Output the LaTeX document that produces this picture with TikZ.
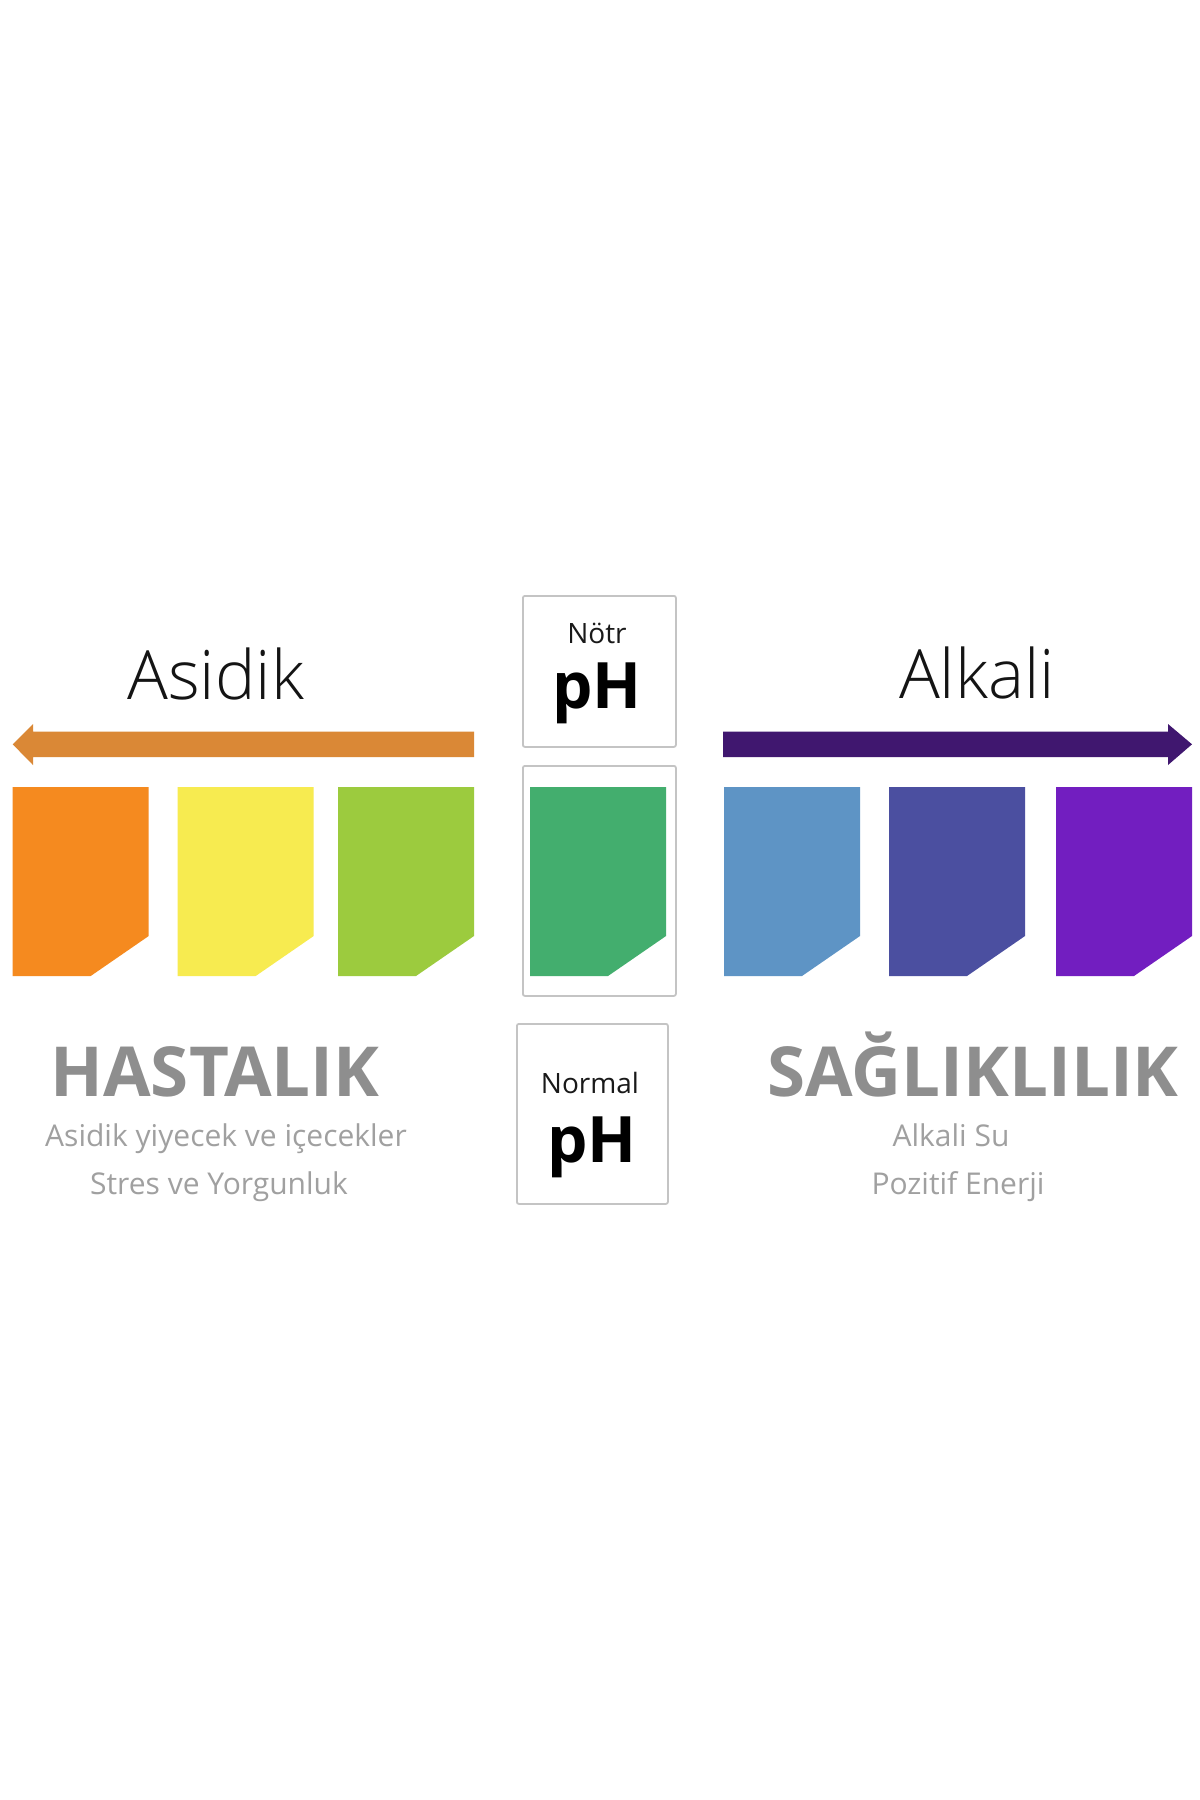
\documentclass[tikz,border=0pt]{standalone}
\usepackage{fontspec}
\setmainfont{Open Sans}
\IfFontExistsTF{Open Sans Light}{\newfontfamily\lightfont{Open Sans Light}}{\newfontfamily\lightfont{Open Sans}}
\definecolor{sqorange}{HTML}{F58A1F}
\definecolor{sqyellow}{HTML}{F7EB50}
\definecolor{sqlime}{HTML}{9CCB3E}
\definecolor{sqgreen}{HTML}{43AE6E}
\definecolor{sqblue}{HTML}{5E94C5}
\definecolor{sqindigo}{HTML}{4B4FA0}
\definecolor{sqviolet}{HTML}{721EC0}
\definecolor{arrorange}{HTML}{DA8836}
\definecolor{arrpurple}{HTML}{40176F}
\definecolor{framegray}{HTML}{C4C4C4}
\definecolor{headgray}{HTML}{8E8E8E}
\definecolor{subgray}{HTML}{A0A0A0}
\begin{document}
\begin{tikzpicture}[x=1pt,y=-1pt,inner sep=0pt,
  frame/.style={draw=framegray,line width=1.8pt,rounded corners=2pt},
  titletext/.style={anchor=base,font=\lightfont\fontsize{68}{68}\selectfont,text=black!92},
  smalltext/.style={anchor=base,font=\fontsize{28}{28}\selectfont,text=black!90},
  phtext/.style={anchor=base,font=\bfseries\fontsize{64}{64}\selectfont,text=black},
  bigtext/.style={anchor=base,font=\bfseries\fontsize{69}{69}\selectfont,text=headgray},
  subtext/.style={anchor=base,font=\fontsize{30}{30}\selectfont,text=subgray}]
\useasboundingbox[fill=white] (0,0) rectangle (1200,1800);

% arrows
\fill[arrorange] (474,731.5) -- (33,731.5) -- (33,724) -- (12.7,744.3) -- (33,765) -- (33,757) -- (474,757) -- cycle;
\fill[arrpurple] (723,731.5) -- (1168,731.5) -- (1168,724) -- (1192,744.3) -- (1168,765) -- (1168,757) -- (723,757) -- cycle;

% frames
\node[frame,minimum width=153pt,minimum height=151pt,anchor=north west] (notrbox) at (522,595) {};
\node[frame,minimum width=153pt,minimum height=230pt,anchor=north west] (greenbox) at (522,765) {};
\node[frame,minimum width=151pt,minimum height=180pt,anchor=north west] (normalbox) at (516,1023) {};

% colour strips
\foreach \x/\c in {12.7/sqorange,177.7/sqyellow,338/sqlime,530/sqgreen,724/sqblue,889/sqindigo,1056/sqviolet}{
  \fill[\c] (\x,787) -- ++(136,0) -- ++(0,149) -- ++(-58,40) -- ++(-78,0) -- cycle;
}

% texts
\node[titletext] (asidik) at (215.8,699) {Asidik};
\node[titletext] (alkali) at (977,698) {Alkali};
\node[smalltext] (notr) at (597,643) {Nötr};
\node[phtext] (ph1) at (597,708) {pH};
\node[smalltext] (normal) at (590,1093) {Normal};
\node[phtext] (ph2) at (592,1162) {pH};
\node[bigtext] (hastalik) at (215,1096) {HASTALIK};
\node[subtext] (sub1) at (226,1146) {Asidik yiyecek ve içecekler};
\node[subtext] (sub2) at (219,1194) {Stres ve Yorgunluk};
\node[bigtext] (saglik) at (973,1096) {SAĞLIKLILIK};
\node[subtext] (sub3) at (951,1146) {Alkali Su};
\node[subtext] (sub4) at (958,1194) {Pozitif Enerji};
\end{tikzpicture}
\end{document}
